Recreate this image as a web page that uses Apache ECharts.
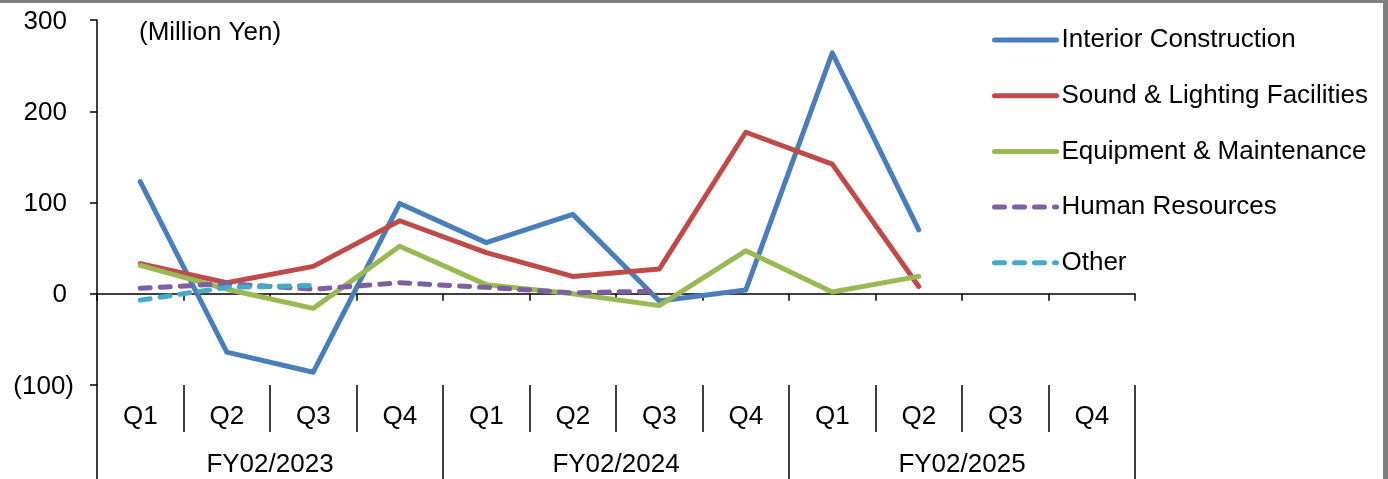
<!DOCTYPE html>
<html>
<head>
<meta charset="utf-8">
<script src="https://cdn.jsdelivr.net/npm/echarts@6/dist/echarts.min.js"></script>
<style>
  html, body { margin: 0; padding: 0; background: #fff; }
  #chart { position: absolute; left: 0; top: 0; width: 1388px; height: 479px; }
  .frame-top { position: absolute; left: 0; top: 0; width: 1388px; height: 3px; background: #7f7f7f; }
  .frame-right { position: absolute; left: 1383px; top: 0; width: 5px; height: 479px; background: #7f7f7f; }
</style>
</head>
<body>
<div id="chart"></div>
<div class="frame-top"></div>
<div class="frame-right"></div>
<script>
const quarters = ['Q1', 'Q2', 'Q3', 'Q4', 'Q1', 'Q2', 'Q3', 'Q4', 'Q1', 'Q2', 'Q3', 'Q4']
const fiscalYears = ['FY02/2023', 'FY02/2024', 'FY02/2025']

const interiorConstruction = [123, -64, -86, 99, 56, 87, -8, 4, 264, 70, null, null]
const soundLighting = [33, 12, 30, 80, 45, 19, 27, 177, 142, 8, null, null]
const equipmentMaintenance = [31, 5, -16, 52, 10, 0, -13, 47, 2, 19, null, null]
const humanResources = [6, 11, 5, 12, 7, 1, 3, null, null, null, null, null]
const other = [-7, 7, 9, null, null, null, null, null, null, null, null, null]

const seriesList = [
  { name: 'Interior Construction', data: interiorConstruction, color: '#4a7ebb', dashed: false },
  { name: 'Sound & Lighting Facilities', data: soundLighting, color: '#be4b48', dashed: false },
  { name: 'Equipment & Maintenance', data: equipmentMaintenance, color: '#98b954', dashed: false },
  { name: 'Human Resources', data: humanResources, color: '#7d60a0', dashed: true },
  { name: 'Other', data: other, color: '#46aac5', dashed: true },
]

const font = '"Liberation Sans", Arial, sans-serif'
const axisColor = '#000'
const fontSize = 26
const lineWidth = 5

const chart = echarts.init(document.getElementById('chart'))
chart.setOption({
  animation: false,
  textStyle: { fontFamily: font, color: '#000' },
  title: {
    text: '(Million Yen)',
    left: 139,
    top: 20,
    padding: 0,
    textStyle: { fontFamily: font, fontSize, fontWeight: 'normal', color: '#000', lineHeight: 26 },
  },
  legend: {
    orient: 'vertical',
    left: 992,
    top: 27,
    padding: 0,
    itemWidth: 62,
    itemHeight: 14,
    itemGap: 29.7,
    itemStyle: { opacity: 0 },
    lineStyle: { width: lineWidth, cap: 'round' },
    textStyle: { fontFamily: font, fontSize, color: '#000', lineHeight: 26 },
    data: seriesList.map((s) => s.name),
  },
  grid: { left: 97, right: 253, top: 20, bottom: 94, containLabel: false },
  xAxis: [
    {
      type: 'category',
      data: quarters,
      position: 'bottom',
      axisLine: { onZero: true, lineStyle: { color: axisColor, width: 1.5 } },
      axisTick: { show: true, interval: 0, length: 7, lineStyle: { color: axisColor, width: 1.5 } },
      axisLabel: { show: false },
    },
    {
      type: 'category',
      data: quarters,
      position: 'bottom',
      axisLine: { show: false, onZero: false },
      axisTick: { show: true, interval: 0, length: 47, lineStyle: { color: axisColor, width: 1.5 } },
      axisLabel: { interval: 0, margin: 19, fontFamily: font, fontSize, color: '#000', lineHeight: 26 },
    },
    {
      type: 'category',
      data: fiscalYears,
      position: 'bottom',
      axisLine: { show: false, onZero: false },
      axisTick: { show: true, interval: 0, length: 94, lineStyle: { color: axisColor, width: 1.5 } },
      axisLabel: { interval: 0, margin: 67, fontFamily: font, fontSize, color: '#000', lineHeight: 26 },
    },
  ],
  yAxis: {
    type: 'value',
    min: -100,
    max: 300,
    interval: 100,
    axisLine: { show: true, lineStyle: { color: axisColor, width: 1.5 } },
    axisTick: { show: true, length: 7, lineStyle: { color: axisColor, width: 1.5 } },
    splitLine: { show: false },
    axisLabel: {
      margin: 23,
      fontFamily: font,
      fontSize,
      color: '#000',
      padding: [3, 0, 0, 0],
      formatter: (v) => (v < 0 ? '(' + Math.abs(v) + ')' : '{p|' + v + '}'),
      rich: { p: { fontFamily: font, fontSize, color: '#000', padding: [0, 7, 0, 0] } },
    },
  },
  series: seriesList.map((s) => ({
    name: s.name,
    type: 'line',
    xAxisIndex: 0,
    data: s.data,
    symbol: 'none',
    smooth: false,
    connectNulls: false,
    color: s.color,
    lineStyle: {
      color: s.color,
      width: lineWidth,
      type: s.dashed ? [10, 10] : 'solid',
      cap: 'round',
      join: 'round',
    },
  })),
})
</script>
</body>
</html>
